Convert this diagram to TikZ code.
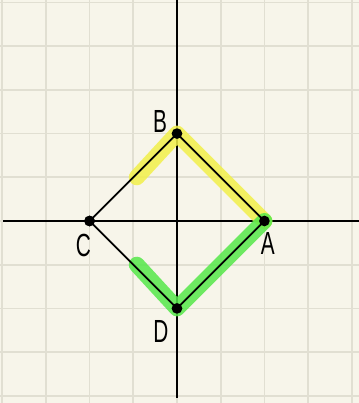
\documentclass[tikz,border=0pt]{standalone}
\usepackage{fontspec}
\setmainfont{Liberation Sans}
\definecolor{paper}{HTML}{F7F5EA}
\definecolor{gridc}{HTML}{E1DFD2}
\definecolor{hlyellow}{HTML}{F2F04A}
\definecolor{hlgreen}{HTML}{55E84A}
\begin{document}
\begin{tikzpicture}[x=32.775pt,y=32.775pt,
  gridline/.style={draw=gridc,line width=1.3pt},
  axis/.style={draw=black,line width=1.5pt},
  edge/.style={draw=black,line width=1.4pt},
  hl/.style={line width=12pt,line cap=round,line join=round,opacity=0.85},
  dot/.style={circle,fill=black,inner sep=0pt,minimum size=8pt},
  lbl/.style={font=\fontsize{24}{24}\selectfont}]
\fill[paper] (-4.05,-4.165) rectangle (4.165,5.057);
\useasboundingbox (-4.05,-4.165) rectangle (4.165,5.057);
\foreach \i in {-4,...,4} \draw[gridline] (\i,-4.165) -- (\i,5.057);
\foreach \j in {-4,...,5} \draw[gridline] (-4.05,\j) -- (4.165,\j);
\coordinate (xl) at (-3.98,0);
\coordinate (xr) at (4.165,0);
\coordinate (yt) at (0,5.057);
\coordinate (yb) at (0,-4.05);
\draw[axis] (xl) -- (xr);
\draw[axis] (yt) -- (yb);
\coordinate (yh) at (-0.92,1.0);
\coordinate (gh) at (-0.92,-1.0);
\node[dot] (B) at (0,2) {};
\node[dot] (A) at (2,0) {};
\node[dot] (C) at (-2,0) {};
\node[dot] (D) at (0,-2) {};
\draw[hl,hlyellow] (yh) -- (B.center) -- (A.center);
\draw[hl,hlgreen] (gh) -- (D.center) -- (A.center);
\draw[edge] (B.center) -- (A.center) -- (D.center) -- (C.center) -- cycle;
\node[dot] at (B) {};
\node[dot] at (A) {};
\node[dot] at (C) {};
\node[dot] at (D) {};
\node[lbl] (lB) at (-0.39,2.27) {\scalebox{0.65}[1]{B}};
\node[lbl] (lA) at (2.08,-0.52) {\scalebox{0.65}[1]{A}};
\node[lbl] (lC) at (-2.14,-0.55) {\scalebox{0.65}[1]{C}};
\node[lbl] (lD) at (-0.37,-2.52) {\scalebox{0.65}[1]{D}};
\end{tikzpicture}
\end{document}
